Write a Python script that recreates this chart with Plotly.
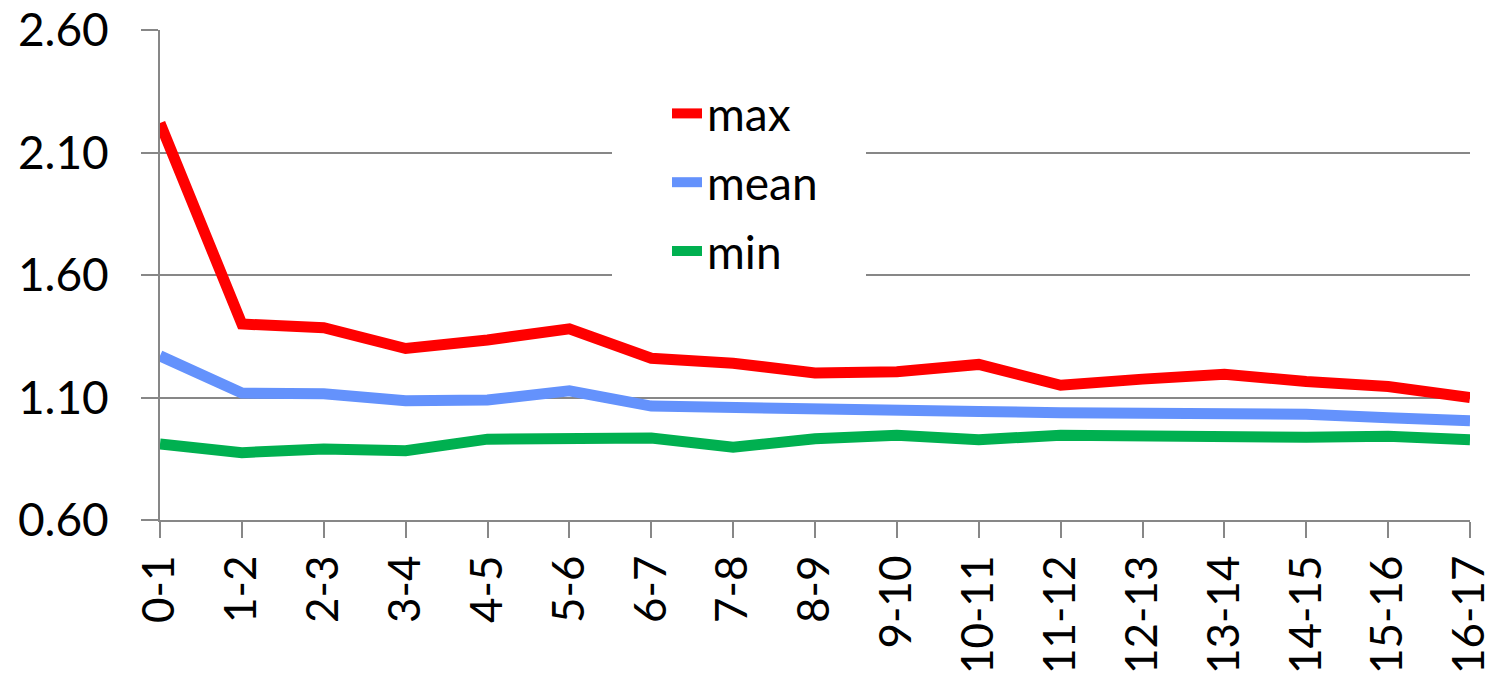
import plotly.graph_objects as go

# Interval categories along the x axis
intervals = ["0-1", "1-2", "2-3", "3-4", "4-5", "5-6", "6-7", "7-8", "8-9",
             "9-10", "10-11", "11-12", "12-13", "13-14", "14-15", "15-16", "16-17"]

max_vals = [2.22, 1.40, 1.385, 1.30, 1.335, 1.38, 1.26, 1.24, 1.20,
            1.205, 1.235, 1.15, 1.175, 1.195, 1.165, 1.145, 1.10]
mean_vals = [1.27, 1.118, 1.115, 1.087, 1.09, 1.127, 1.065, 1.058, 1.046,
             1.04, 1.043, 1.038, 1.038, 1.035, 1.032, 1.017, 1.005]
min_vals = [0.91, 0.875, 0.89, 0.883, 0.93, 0.93, 0.935, 0.897, 0.932,
            0.946, 0.928, 0.946, 0.942, 0.946, 0.938, 0.942, 0.928]

y_ticks = [0.60, 1.10, 1.60, 2.10, 2.60]

FONT = "Lato"
GRID = "#878787"

fig = go.Figure()
for name, vals, color in [("max", max_vals, "#FF0000"),
                          ("mean", mean_vals, "#6492FC"),
                          ("min", min_vals, "#00B050")]:
    fig.add_trace(go.Scatter(x=intervals, y=vals, name=name, mode="lines",
                             legendgroup=name,
                             line=dict(color=color, width=11)))

# White panel behind the legend, breaking the gridlines there
fig.add_shape(type="rect", xref="paper", yref="paper",
              x0=(612 - 160) / 1310, x1=(866 - 160) / 1310,
              y0=1 - (290 - 30) / 490, y1=1 - (92 - 30) / 490,
              fillcolor="white", line=dict(width=0), layer="above")

fig.update_layout(
    width=1494, height=678,
    margin=dict(l=160, r=24, t=30, b=158, autoexpand=False),
    paper_bgcolor="white", plot_bgcolor="white",
    font=dict(family=FONT, size=46, color="black"),
    showlegend=True,
    legend=dict(x=(667 - 160) / 1310, y=1 - (77 - 30) / 490,
                xanchor="left", yanchor="top",
                bgcolor="rgba(0,0,0,0)", borderwidth=0,
                font=dict(family=FONT, size=46),
                itemwidth=30, tracegroupgap=6, traceorder="grouped"),
)
fig.update_xaxes(
    type="category", range=[0, len(intervals) - 1], automargin=False,
    tickangle=-90, ticks="outside", ticklen=16, tickwidth=2, tickcolor=GRID,
    showline=True, linecolor=GRID, linewidth=2, showgrid=False,
    tickfont=dict(family=FONT, size=44), zeroline=False,
)
fig.update_yaxes(
    range=[0.6, 2.6], tickvals=y_ticks, tickformat=".2f", automargin=False,
    ticks="outside", ticklen=17, tickwidth=2, tickcolor=GRID,
    showline=True, linecolor=GRID, linewidth=2,
    showgrid=True, gridcolor=GRID, gridwidth=2, zeroline=False,
    tickfont=dict(family=FONT, size=46), ticklabelstandoff=23,
)

fig.write_html("out.html")
